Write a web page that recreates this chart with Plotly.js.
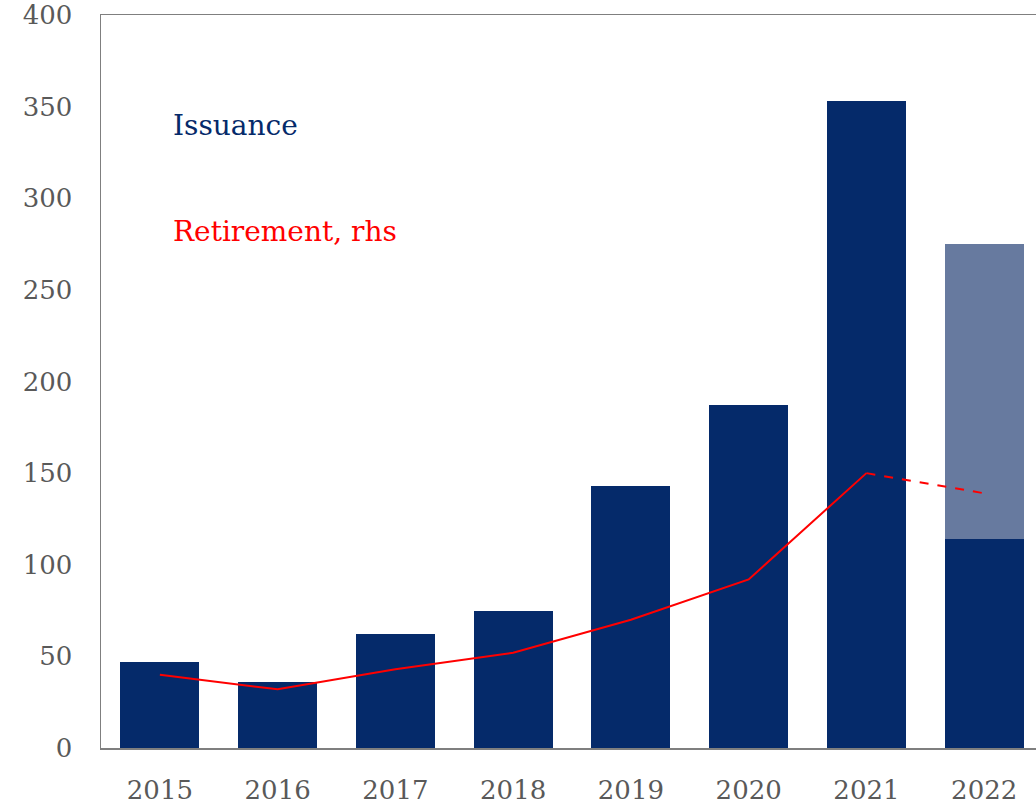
<!DOCTYPE html>
<html>
<head>
<meta charset="utf-8">
<script src="https://cdn.plot.ly/plotly-3.0.1.min.js"></script>
<style>html,body{margin:0;padding:0;background:#fff;}#chart{width:1036px;height:804px;}</style>
</head>
<body>
<div id="chart"></div>
<script>
const years = ["2015","2016","2017","2018","2019","2020","2021","2022"];
const issuance = [47, 36, 62, 75, 143, 187, 353, 114];
const issuanceExtraYears = ["2022"];
const issuanceExtra = [161];
const retirementYears = ["2015","2016","2017","2018","2019","2020","2021"];
const retirement = [40, 32, 43, 52, 70, 92, 150];
const retirementForecastYears = ["2021","2022"];
const retirementForecast = [150, 139];
const yTicks = [0,50,100,150,200,250,300,350,400];

const navy = "#052a6a";
const lightNavy = "#677a9f";
const red = "#ff0000";
const font = "Georgia, 'DejaVu Serif', 'Liberation Serif', serif";

const data = [
  {type:"bar", x:years, y:issuance, marker:{color:navy}, name:"Issuance", hoverinfo:"x+y"},
  {type:"bar", x:issuanceExtraYears, y:issuanceExtra, marker:{color:lightNavy}, name:"Issuance (est.)"},
  {type:"scatter", mode:"lines", x:retirementYears, y:retirement, yaxis:"y2", line:{color:red, width:2}, name:"Retirement, rhs"},
  {type:"scatter", mode:"lines", x:retirementForecastYears, y:retirementForecast, yaxis:"y2", line:{color:red, width:2, dash:"dash"}, name:"Retirement, rhs (est.)"}
];

const layout = {
  width:1036, height:804,
  margin:{l:101, r:0, t:15, b:56},
  paper_bgcolor:"#fff", plot_bgcolor:"#fff",
  showlegend:false,
  barmode:"stack",
  bargap:0.33,
  font:{family:font, color:"#595959", size:26},
  xaxis:{
    type:"category", categoryorder:"array", categoryarray:years,
    range:[-0.5, 7.44],
    showline:true, linecolor:"#7f7f7f", linewidth:1.5, mirror:true,
    showgrid:false, ticks:"", ticklabelstandoff:18,
    tickfont:{family:font, size:26, color:"#595959"}
  },
  yaxis:{
    range:[0,400], tickvals:yTicks, ticktext:yTicks.map(String),
    showline:true, linecolor:"#7f7f7f", linewidth:1.5,
    showgrid:false, zeroline:false, ticks:"", ticklabelstandoff:22,
    tickfont:{family:font, size:26, color:"#595959"}
  },
  yaxis2:{
    range:[0,400], overlaying:"y", side:"right", visible:false, showgrid:false, zeroline:false
  },
  annotations:[
    {xref:"paper", yref:"paper", x:0.075, y:0.849, xanchor:"left", yanchor:"middle", showarrow:false,
     text:"Issuance", font:{family:font, size:28, color:navy}},
    {xref:"paper", yref:"paper", x:0.075, y:0.704, xanchor:"left", yanchor:"middle", showarrow:false,
     text:"Retirement, rhs", font:{family:font, size:28, color:red}}
  ]
};

Plotly.newPlot("chart", data, layout, {displayModeBar:false, staticPlot:true});
</script>
</body>
</html>
